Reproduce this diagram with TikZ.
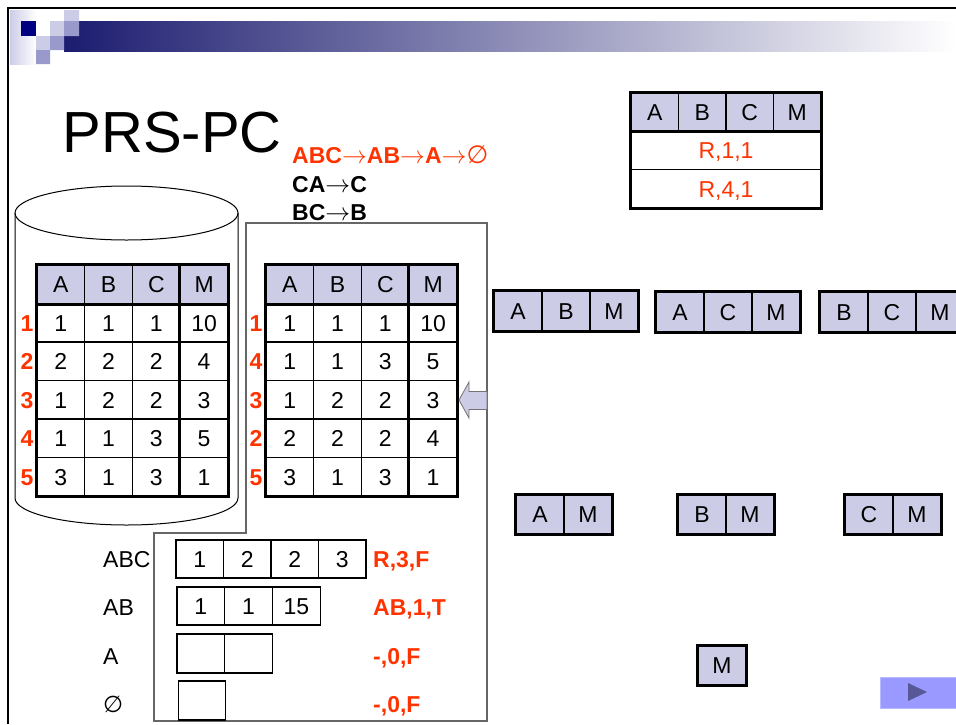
\documentclass[tikz,border=0pt]{standalone}
\usepackage{fontspec}
\setmainfont{Liberation Sans}
\newfontfamily\dvfont{DejaVu Sans}
\usetikzlibrary{positioning, calc}
\definecolor{cRed}{RGB}{255,51,0}
\definecolor{cHead}{RGB}{204,204,230}
\definecolor{cMid}{RGB}{153,153,204}
\definecolor{cNavy}{RGB}{0,0,128}
\definecolor{cBar}{RGB}{28,28,112}
\definecolor{cBarMid}{RGB}{170,170,192}
\definecolor{cBtn}{RGB}{153,153,255}
\definecolor{cBtnEdge}{RGB}{185,185,255}
\definecolor{cBtnTri}{RGB}{88,88,150}
\newcommand{\tabfont}{\fontsize{23}{27}\selectfont}
\newcommand{\chto}{$\rightarrow$}
\tikzset{
	cell/.style   ={rectangle, draw=black, line width=1.2pt, minimum width=47.75pt, minimum height=38.5pt, inner sep=0pt, text height=16.5pt, text depth=0pt, font=\tabfont},
	hcell/.style  ={cell, fill=cHead},
	frm/.style    ={line width=2.8pt},
	rowno/.style  ={inner sep=0pt, text height=16.5pt, text depth=0pt, text=cRed, font=\tabfont\bfseries},
	lbl/.style    ={anchor=west, inner sep=0pt, text height=16.5pt, text depth=0pt, font=\tabfont},
	res/.style    ={lbl, text=cRed, font=\tabfont\bfseries},
	chn/.style    ={anchor=base west, inner sep=0pt, font=\tabfont\bfseries},
	outline/.style={draw=black!60, line width=1.2pt},
}

\begin{document}
\begin{tikzpicture}[x=1pt, y=-1pt]
	\useasboundingbox (0,0) rectangle (956,724);
	\clip (0,0) rectangle (956,724);
	% slide header
	\shade[left color=cBar, middle color=cBarMid, right color=white] (64,21) rectangle (956,51);
	\shade[left color=cHead, right color=white] (10,10) rectangle (36,64);
	\fill[cNavy] (21,21) rectangle (36,36);
	\fill[cHead] (64,10) rectangle (79,21) (50,21) rectangle (64,36) (36,36) rectangle (50,50);
	\fill[cMid] (64,21) rectangle (79,36) (50,36) rectangle (64,50) (36,50) rectangle (50,64);
	\draw[line width=2.4pt] (8,724) -- (8,8) -- (956,8);
	\node[anchor=base west, inner sep=0pt, font=\fontsize{58}{58}\selectfont] (title) at (62.5,152) {PRS-PC};
	% chains
	\node[chn, text=cRed] (chain) at (292,163) {ABC\chto AB\chto A\chto{\dvfont\mdseries\fontsize{25}{27}\selectfont ∅}};
	\node[chn] (ca) at (292,192) {CA\chto C};
	\node[chn] (bc) at (292,220) {BC\chto B};
	% cylinder and outline
	\draw[line width=1pt] (126.5,213) ellipse [x radius=111.5pt, y radius=27pt];
	\draw[line width=1pt] (15,213) -- (15,498) arc[start angle=180, end angle=360, x radius=111.5pt, y radius=27pt] -- (238,213);
	\draw[outline] (246,533) -- (246,223) -- (487,223) -- (487,721) -- (154,721) -- (154,533) -- cycle;
	% relations
	\foreach \t/\x/\rows in {L/37/{1/1/1/1/10,2/2/2/2/4,3/1/2/2/3,4/1/1/3/5,5/3/1/3/1}, R/266/{1/1/1/1/10,4/1/1/3/5,3/1/2/2/3,2/2/2/2/4,5/3/1/3/1}} {
		\foreach \h [count=\j] in {A,B,C,M}
			\node[hcell] (\t0\j) at ({\x+47.75*(\j-0.5)},284.25) {\h};
		\foreach \k/\a/\b/\c/\m [count=\i] in \rows {
			\node[rowno] (\t n\i) at ({\x-10},{284.25+38.5*\i}) {\k};
			\foreach \v [count=\j] in {\a,\b,\c,\m}
				\node[cell] (\t\i\j) at ({\x+47.75*(\j-0.5)},{284.25+38.5*\i}) {\v};
		}
		\draw[frm] (\t01.north west) rectangle (\t54.south east);
		\draw[frm] (\t01.south west) -- (\t04.south east);
		\draw[frm] (\t04.north west) -- (\t54.south west);
	}
	\draw[fill=cHead, draw=black!55, line width=0.8pt] (459,400) -- (469,382) -- (469,391.5) -- (487,391.5) -- (487,409.5) -- (469,409.5) -- (469,418) -- cycle;
	% buffers
	\node[lbl] (kABC) at (103,559) {ABC};
	\node[lbl] (kAB) at (103,607) {AB};
	\node[lbl] (kA) at (103,656) {A};
	\node[lbl] (kE) at (103,704) {\dvfont ∅};
	\foreach \v [count=\j] in {1,2,2,3}
		\node[cell, minimum width=47.5pt, minimum height=38pt] (b1\j) at ({176+47.5*(\j-0.5)},559) {\v};
	\foreach \v [count=\j] in {1,1,15}
		\node[cell, minimum height=38pt] (b2\j) at ({177+47.75*(\j-0.5)},606) {\v};
	\foreach \j in {1,2}
		\node[cell, minimum height=39pt] (b3\j) at ({177+47.75*(\j-0.5)},653.5) {};
	\node[cell, minimum height=39pt] (b41) at (202,700.5) {};
	\node[res] (rABC) at (373,559) {R,3,F};
	\node[res] (rAB) at (373,607) {AB,1,T};
	\node[res] (rA) at (373,656) {-,0,F};
	\node[res] (rE) at (373,704) {-,0,F};
	% result table
	\foreach \h [count=\j] in {A,B,C,M}
		\node[hcell, minimum width=47.5pt, minimum height=38pt] (T0\j) at ({631+47.5*(\j-0.5)},112) {\h};
	\node[cell, minimum width=190pt, text=cRed] (T1) at (726,150.25) {R,1,1};
	\node[cell, minimum width=190pt, text=cRed] (T2) at (726,188.75) {R,4,1};
	\draw[frm] (T01.north west) rectangle (T2.south east);
	\draw[frm] (T01.south west) -- (T04.south east);
	% lattice
	\foreach \n/\x/\y/\last/\cols in {ABM/494/311/3/{A,B,M}, ACM/656/312/3/{A,C,M}, BCM/820/312/3/{B,C,M}, AM/516/514.5/2/{A,M}, BM/678/514.5/2/{B,M}, CM/845/514.5/2/{C,M}, M/698/665.5/1/{M}} {
		\foreach \h [count=\j] in \cols
			\node[hcell, minimum width=48pt, minimum height=39.5pt] (\n\j) at ({\x+48*(\j-0.5)},\y) {\h};
		\draw[frm] (\n1.north west) rectangle (\n\last.south east);
	}
	% nav button
	\node[draw=cBtnEdge, fill=cBtn, line width=1pt, minimum width=76pt, minimum height=31pt, inner sep=0pt] (nav) at (918,692.5) {};
	\fill[cBtnTri] (908,683) -- (927,692) -- (908,701) -- cycle;
\end{tikzpicture}
\end{document}
